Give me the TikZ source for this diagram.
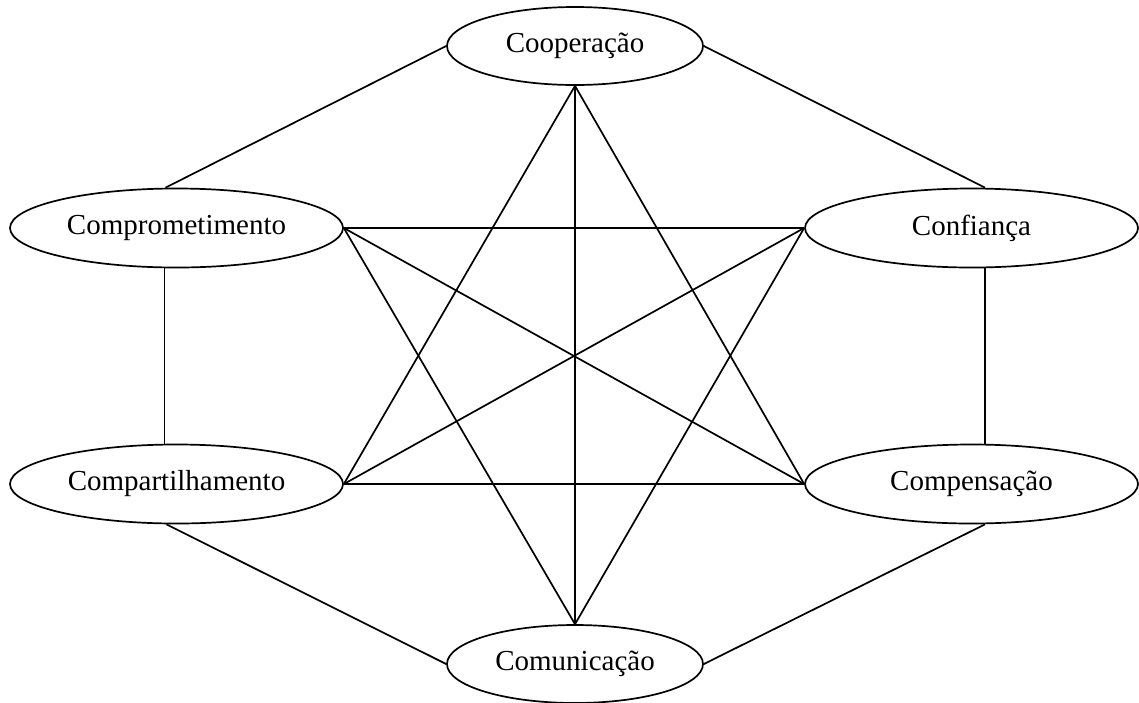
\documentclass[tikz,border=0pt]{standalone}
\usepackage{fontspec}
\setmainfont{Liberation Serif}
\usetikzlibrary{shapes.geometric}
\begin{document}
\begin{tikzpicture}[x=1pt,y=-1pt,
  oval/.style={draw, ellipse, line width=1.7pt, inner sep=0pt, fill=white,
    font=\fontsize{29}{34}\selectfont},
  bigoval/.style={oval, minimum width=333pt, minimum height=79pt},
  smalloval/.style={oval, minimum width=256pt, minimum height=78pt},
  link/.style={line width=1.7pt}]
\useasboundingbox (0,0) rectangle (1139,702);
% nodes
\node[smalloval] (coop) at (575,46) {Cooperação};
\node[bigoval] (compr) at (176.5,228) {Comprometimento};
\node[bigoval] (conf) at (971.5,228) {Confiança};
\node[bigoval] (compa) at (176.5,484) {Compartilhamento};
\node[bigoval] (compe) at (971.5,484) {Compensação};
\node[smalloval] (comu) at (575,664) {Comunicação};
% outer ring
\draw[link] ([xshift=-11pt]compr.north) -- (coop.west);
\draw[link] (coop.east) -- ([xshift=13.5pt]conf.north);
\draw[link] ([xshift=-12pt]compr.south) -- ([xshift=-12pt]compa.north);
\draw[link] ([xshift=13.5pt]conf.south) -- ([xshift=13.5pt]compe.north);
\draw[link] ([xshift=-10pt]compa.south) -- (comu.west);
\draw[link] (comu.east) -- ([xshift=13.5pt]compe.south);
% inner star
\draw[link] (coop.south) -- (compa.east);
\draw[link] (coop.south) -- (compe.west);
\draw[link] (coop.south) -- (comu.north);
\draw[link] (compr.east) -- (conf.west);
\draw[link] (compr.east) -- (compe.west);
\draw[link] (compr.east) -- (comu.north);
\draw[link] (conf.west) -- (compa.east);
\draw[link] (conf.west) -- (comu.north);
\draw[link] (compa.east) -- (compe.west);
\end{tikzpicture}
\end{document}
